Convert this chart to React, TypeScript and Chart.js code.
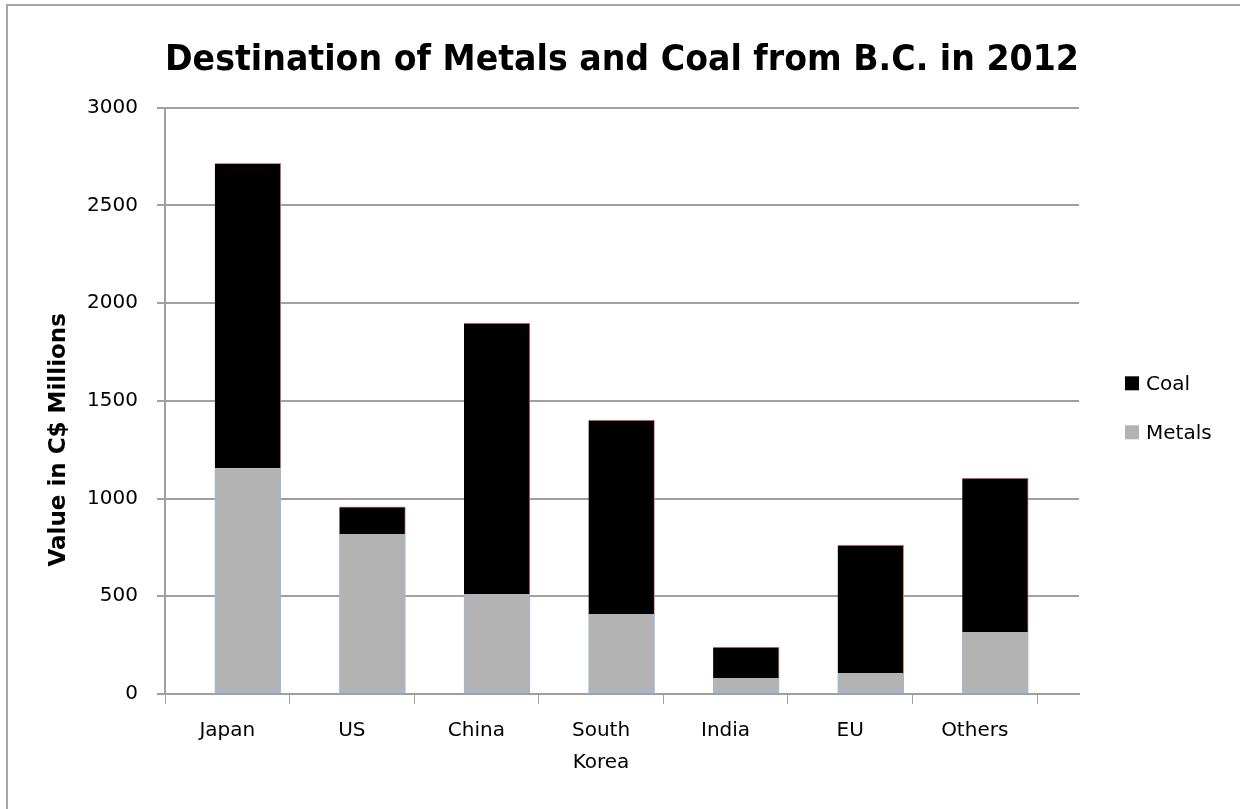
import React, { useEffect, useRef } from "react";
import { Chart, registerables } from "chart.js";

Chart.register(...registerables);

// ---- data ----
const categories = ["Japan", "US", "China", "South Korea", "India", "EU", "Others"];
const categoryLines = [["Japan"], ["US"], ["China"], ["South", "Korea"], ["India"], ["EU"], ["Others"]];
const metals = [1155, 818, 511, 409, 82, 107, 317];
const coal = [1560, 139, 1387, 993, 158, 655, 788];
const yTicks = [0, 500, 1000, 1500, 2000, 2500, 3000];
const chartTitle = "Destination of Metals and Coal from B.C. in 2012";
const yAxisTitle = "Value in C$ Millions";

// ---- style / layout constants ----
const FONT = "'DejaVu Sans', sans-serif";
const GRID = "#a0a0a0";
const BAR_SHIFT = 0.165; // bars sit slightly right of category centre
const AXIS_EXTRA = 0.337; // plot area extends past last category

const framePlugin = {
  id: "frame",
  beforeDraw(chart: any) {
    const { ctx, width, height } = chart;
    ctx.save();
    ctx.strokeStyle = "#a6a6a6";
    ctx.lineWidth = 2;
    ctx.beginPath();
    ctx.moveTo(7, height);
    ctx.lineTo(7, 5);
    ctx.lineTo(width, 5);
    ctx.stroke();
    ctx.restore();
  },
};

const yTitlePlugin = {
  id: "yTitle",
  afterDraw(chart: any) {
    const { ctx, chartArea } = chart;
    ctx.save();
    ctx.translate(chartArea.left - 106, (chartArea.top + chartArea.bottom) / 2 + 39);
    ctx.rotate(-Math.PI / 2);
    ctx.font = `bold 23px ${FONT}`;
    ctx.fillStyle = "#000";
    ctx.textAlign = "center";
    ctx.textBaseline = "middle";
    ctx.fillText(yAxisTitle, 0, 0);
    ctx.restore();
  },
};

const sideLegendPlugin = {
  id: "sideLegend",
  afterDraw(chart: any) {
    const { ctx, chartArea } = chart;
    const items = chart.data.datasets
      .map((d: any) => ({ label: d.label, color: d.backgroundColor }))
      .reverse();
    const x = chartArea.right + 46;
    const midY = (chartArea.top + chartArea.bottom) / 2 + 7;
    const gap = 49;
    ctx.save();
    ctx.font = `20px ${FONT}`;
    ctx.textBaseline = "middle";
    ctx.textAlign = "left";
    items.forEach((it: any, i: number) => {
      const y = midY + (i - (items.length - 1) / 2) * gap;
      ctx.fillStyle = it.color;
      ctx.fillRect(x, y - 7, 14, 14);
      ctx.fillStyle = "#000";
      ctx.fillText(it.label, x + 21, y + 1);
    });
    ctx.restore();
  },
};

export default function App() {
  const canvasRef = useRef<HTMLCanvasElement | null>(null);

  useEffect(() => {
    if (!canvasRef.current) return;
    const positions = categories.map((_, i) => i + 0.5 + BAR_SHIFT);
    const chart = new Chart(canvasRef.current, {
      type: "bar",
      data: {
        labels: positions,
        datasets: [
          {
            label: "Metals",
            data: metals,
            backgroundColor: "#b3b3b3",
            borderColor: "#9db9dc",
            borderWidth: { left: 1, right: 1, bottom: 2, top: 0 },
            borderSkipped: false,
            stack: "total",
            barThickness: 66,
          },
          {
            label: "Coal",
            data: coal,
            backgroundColor: "#000000",
            borderColor: "#e08a8a",
            borderWidth: { top: 1, right: 1, left: 0, bottom: 0 },
            borderSkipped: false,
            stack: "total",
            barThickness: 66,
          },
        ],
      },
      options: {
        responsive: false,
        animation: false,
        devicePixelRatio: 1,
        layout: { padding: { left: 0, right: 161, top: 0, bottom: 0 } },
        plugins: {
          legend: { display: false },
          tooltip: { enabled: false },
          title: {
            display: true,
            text: chartTitle,
            fullSize: false,
            color: "#000",
            font: { family: FONT, size: 35.5, weight: "bold" },
            padding: { top: 39, bottom: 26 },
          },
        },
        scales: {
          x: {
            type: "linear",
            offset: false,
            bounds: "data",
            min: 0,
            max: categories.length + AXIS_EXTRA,
            afterBuildTicks: (scale: any) => {
              scale.ticks = categories.map((_, i) => ({ value: i + 0.5 }));
            },
            afterFit: (scale: any) => {
              scale.height = 115;
            },
            grid: {
              offset: true,
              drawOnChartArea: false,
              drawTicks: true,
              tickLength: 10,
              color: GRID,
              lineWidth: 1,
            },
            border: { display: true, color: GRID, width: 2 },
            ticks: {
              autoSkip: false,
              maxRotation: 0,
              minRotation: 0,
              padding: 11,
              color: "#000",
              font: { family: FONT, size: 20, lineHeight: 1.6 },
              callback: (_v: any, i: number) => categoryLines[i],
            },
          },
          y: {
            stacked: true,
            min: yTicks[0],
            max: yTicks[yTicks.length - 1],
            afterBuildTicks: (scale: any) => {
              scale.ticks = yTicks.map((v) => ({ value: v }));
            },
            afterFit: (scale: any) => {
              scale.width = 165;
            },
            grid: { color: GRID, lineWidth: 2, tickLength: 8 },
            border: { display: true, color: GRID, width: 2 },
            ticks: {
              padding: 19,
              color: "#000",
              font: { family: FONT, size: 20 },
              callback: (v: any) => String(v),
            },
          },
        },
      },
      plugins: [framePlugin, yTitlePlugin, sideLegendPlugin],
    } as any);
    return () => chart.destroy();
  }, []);

  return (
    <div style={{ position: "absolute", left: 0, top: 0, width: 1240, height: 809, background: "#fff" }}>
      <canvas ref={canvasRef} width={1240} height={809} />
    </div>
  );
}
